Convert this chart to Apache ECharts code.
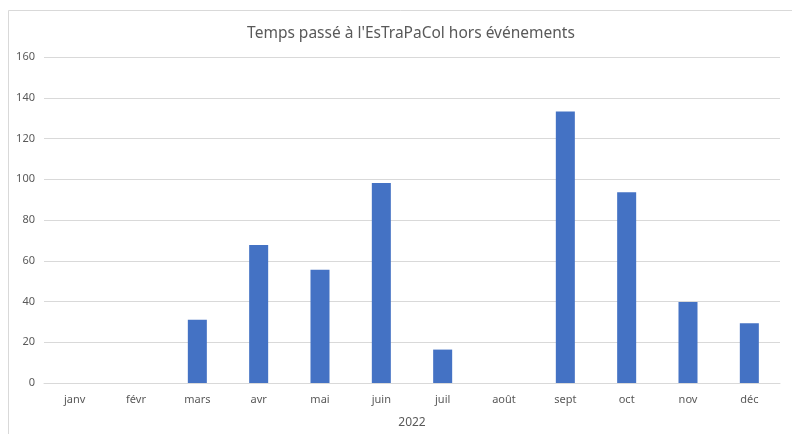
<!DOCTYPE html>
<html>
<head>
<meta charset="utf-8">
<script src="https://cdn.jsdelivr.net/npm/echarts@6/dist/echarts.min.js"></script>
<style>
  html, body { margin: 0; padding: 0; background: #fff; }
  #chart { width: 792px; height: 434px; }
</style>
</head>
<body>
<div id="chart"></div>
<script>
// données
var titre = "Temps passé à l'EsTraPaCol hors événements";
var mois = ['janv', 'févr', 'mars', 'avr', 'mai', 'juin', 'juil', 'août', 'sept', 'oct', 'nov', 'déc'];
var heures = [0, 0, 31, 67.7, 55.6, 98.2, 16.4, 0, 133.3, 93.6, 39.8, 29.3];
var annee = '2022';
var yMin = 0, yMax = 160, yPas = 20;

var myChart = echarts.init(document.getElementById('chart'));
var police = 'Noto Sans';
var option = {
    animation: false,
    backgroundColor: '#fff',
    textStyle: { fontFamily: police },
    graphic: [{
        type: 'rect',
        shape: { x: 8.5, y: 10.5, width: 790, height: 430 },
        style: { fill: 'none', stroke: '#d9d9d9', lineWidth: 1 },
        silent: true
    }],
    title: {
        text: titre,
        left: 406,
        textAlign: 'center',
        top: 21,
        textStyle: { fontFamily: police, fontSize: 15.5, fontWeight: 'normal', color: '#595959' }
    },
    grid: { left: 44, right: 12, top: 57, bottom: 51, containLabel: false },
    xAxis: {
        type: 'category',
        data: mois,
        name: annee,
        nameLocation: 'middle',
        nameGap: 34,
        nameTextStyle: { color: '#595959', fontSize: 12, fontFamily: police },
        axisTick: { show: false },
        axisLine: { lineStyle: { color: '#d9d9d9' } },
        axisLabel: { color: '#595959', fontSize: 11, margin: 11, fontFamily: police }
    },
    yAxis: {
        type: 'value',
        min: yMin,
        max: yMax,
        interval: yPas,
        axisLabel: { color: '#595959', fontSize: 11, margin: 9, fontFamily: police },
        splitLine: { lineStyle: { color: '#d9d9d9' } },
        axisLine: { show: false },
        axisTick: { show: false }
    },
    series: [{
        type: 'bar',
        data: heures,
        barWidth: '31%',
        itemStyle: { color: '#4472C4' }
    }]
};
myChart.setOption(option);
</script>
</body>
</html>
